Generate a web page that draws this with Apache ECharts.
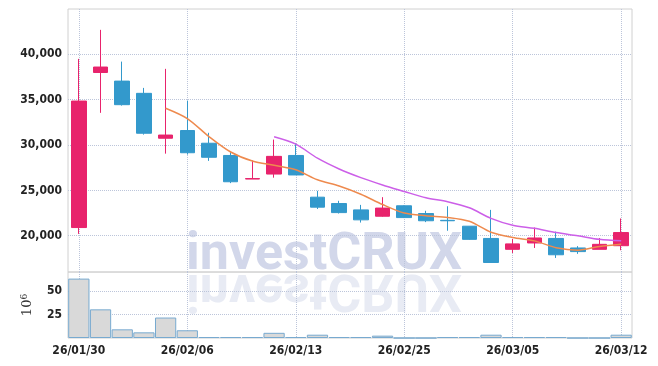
<!DOCTYPE html>
<html>
<head>
<meta charset="utf-8">
<script src="https://cdn.jsdelivr.net/npm/echarts@6/dist/echarts.min.js"></script>
<style>
html, body { margin: 0; padding: 0; background: #fff; }
#chart { width: 658px; height: 366px; }
</style>
</head>
<body>
<div id="chart"></div>
<script>
// trading days
var dates = ['26/01/30', '26/02/02', '26/02/03', '26/02/04', '26/02/05', '26/02/06',
    '26/02/09', '26/02/10', '26/02/11', '26/02/12', '26/02/13', '26/02/19',
    '26/02/20', '26/02/23', '26/02/24', '26/02/25', '26/02/26', '26/02/27',
    '26/03/03', '26/03/04', '26/03/05', '26/03/06', '26/03/09', '26/03/10',
    '26/03/11', '26/03/12'];
// [open, close, low, high]
var ohlc = [
    [20900, 34850, 20200, 39500],
    [38000, 38600, 33550, 42700],
    [37050, 34450, 34350, 39200],
    [35700, 31300, 31150, 36300],
    [30750, 31100, 29050, 38400],
    [31600, 29150, 28950, 34900],
    [30200, 28650, 28250, 31350],
    [28850, 25950, 25800, 29300],
    [26250, 26300, 26250, 28300],
    [26800, 28750, 26400, 30600],
    [28850, 26700, 26700, 30200],
    [24250, 23150, 22950, 24950],
    [23550, 22550, 22450, 23850],
    [22850, 21750, 21450, 23400],
    [22150, 23050, 22100, 24250],
    [23300, 22000, 21950, 23350],
    [22450, 21650, 21500, 22750],
    [21700, 21650, 20550, 23250],
    [21050, 19600, 19550, 21050],
    [19700, 17050, 17000, 22850],
    [18500, 19100, 18100, 19650],
    [19200, 19750, 18650, 20900],
    [19700, 17900, 17550, 20450],
    [18650, 18250, 18000, 18850],
    [18500, 19050, 18500, 19750],
    [18900, 20350, 18400, 21900]
];
// 거래량 (10^6)
var volumes = [63, 30.4, 9.2, 6, 21.7, 8.2, 1, 1, 1, 5.5, 1, 3.5, 1, 1, 2.5, 0, 0, 1, 1, 3.5, 1, 1, 1, 0, 0, 3.5];
var ma5 = ['-', '-', '-', '-', 34060, 32920, 30930, 29230, 28230, 27760, 27270, 26170, 25490,
    24580, 23440, 22500, 22200, 22020, 21590, 20390, 19810, 19430, 18680, 18410, 18810, 19060];
var ma10 = ['-', '-', '-', '-', '-', '-', '-', '-', '-', 30910, 30095, 28550, 27360,
    26405, 25600, 24885, 24185, 23755, 23085, 21915, 21155, 20815, 20350, 20000, 19600, 19435];
var priceTicks = [20000, 25000, 30000, 35000, 40000];
var volumeTicks = [25, 50];

var upColor = '#e8236c', downColor = '#3399cc';
var labelFont = { color: '#222', fontFamily: 'DejaVu Sans Condensed', fontWeight: 'bold', fontSize: 12 };
var gridLine = { show: true, lineStyle: { color: '#bcc5da', type: 'dotted', width: 1 } };

var chart = echarts.init(document.getElementById('chart'));
var option = {
    animation: false,
    graphic: [
        {
            type: 'text', x: 186, y: 282, z: -10, silent: true,
            style: { text: 'investCRUX', font: 'bold 52px Roboto', fill: '#d2d7ea', verticalAlign: 'bottom' }
        },
        {
            type: 'text', x: 186, y: 262, scaleY: -1, z: -10, silent: true,
            style: { text: 'investCRUX', font: 'bold 52px Roboto', fill: '#e8ebf4', verticalAlign: 'bottom' }
        }
    ],
    grid: [
        { left: 68, right: 26, top: 9, height: 263, show: true, borderColor: '#d0d0d0', borderWidth: 1 },
        { left: 68, right: 26, top: 272, height: 66, show: true, borderColor: '#d0d0d0', borderWidth: 1 }
    ],
    xAxis: [
        {
            type: 'category', gridIndex: 0, data: dates,
            axisLine: { show: false }, axisTick: { show: false }, axisLabel: { show: false },
            splitLine: { show: true, interval: 4, alignWithLabel: true, lineStyle: gridLine.lineStyle }
        },
        {
            type: 'category', gridIndex: 1, data: dates,
            axisLine: { show: false }, axisTick: { show: false },
            axisLabel: Object.assign({ interval: 4, margin: 7 }, labelFont),
            splitLine: { show: true, interval: 4, alignWithLabel: true, lineStyle: gridLine.lineStyle }
        }
    ],
    yAxis: [
        {
            type: 'value', gridIndex: 0, min: 16000, max: 45000,
            axisLine: { show: false },
            axisTick: { show: false, customValues: priceTicks },
            axisLabel: Object.assign({
                customValues: priceTicks, margin: 6,
                formatter: function (v) { return v.toLocaleString('en-US'); }
            }, labelFont),
            splitLine: gridLine
        },
        {
            type: 'value', gridIndex: 1, min: 0, max: 70,
            name: '{n|10}{s|6}', nameLocation: 'middle', nameRotate: 90, nameGap: 32,
            nameTextStyle: {
                rich: {
                    n: { fontFamily: 'DejaVu Serif', fontSize: 13, color: '#333', lineHeight: 16 },
                    s: { fontFamily: 'DejaVu Serif', fontSize: 9, color: '#333', verticalAlign: 'top', lineHeight: 16 }
                }
            },
            axisLine: { show: false },
            axisTick: { show: false, customValues: volumeTicks },
            axisLabel: Object.assign({ customValues: volumeTicks, margin: 6 }, labelFont),
            splitLine: gridLine
        }
    ],
    series: [
        {
            type: 'candlestick', xAxisIndex: 0, yAxisIndex: 0, data: ohlc,
            barWidth: 15,
            itemStyle: { color: upColor, color0: downColor, borderColor: upColor, borderColor0: downColor, borderWidth: 1 }
        },
        {
            type: 'line', xAxisIndex: 0, yAxisIndex: 0, data: ma5,
            smooth: 0.3, symbol: 'none', lineStyle: { color: '#ee8a4e', width: 1.5 }
        },
        {
            type: 'line', xAxisIndex: 0, yAxisIndex: 0, data: ma10,
            smooth: 0.3, symbol: 'none', lineStyle: { color: '#cc5fe8', width: 1.5 }
        },
        {
            type: 'bar', xAxisIndex: 1, yAxisIndex: 1, data: volumes,
            barCategoryGap: '2%',
            itemStyle: { color: '#d9d9d9', borderColor: '#78aad0', borderWidth: 1 }
        }
    ]
};
chart.setOption(option);
</script>
</body>
</html>
